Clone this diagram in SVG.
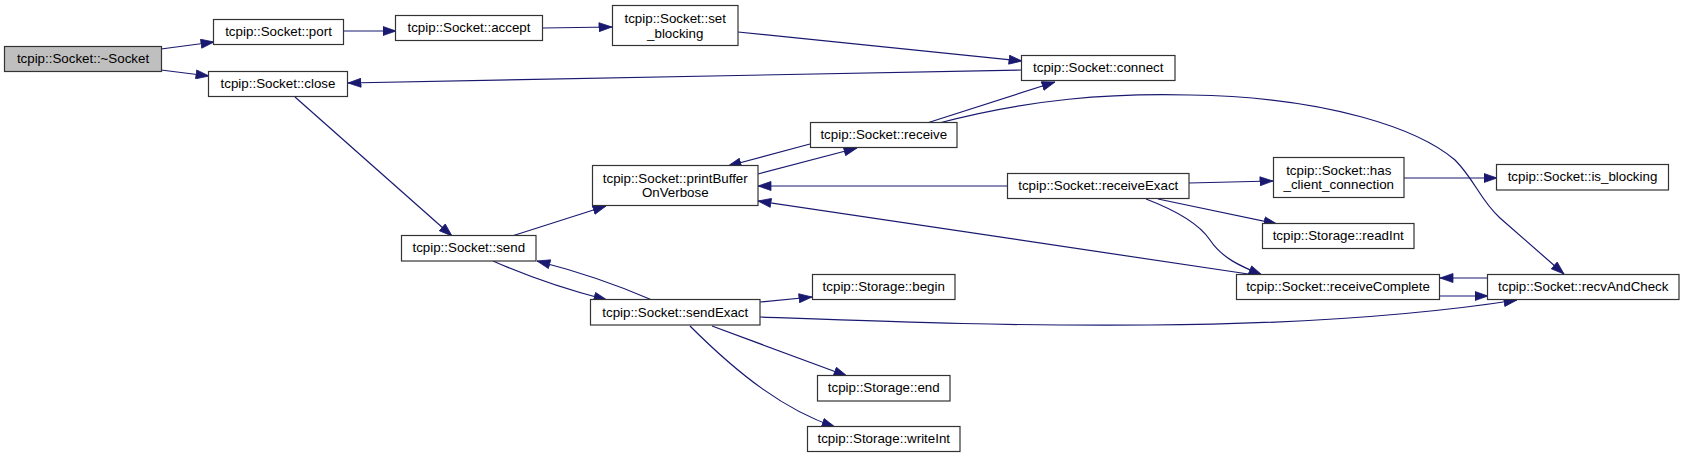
<svg xmlns="http://www.w3.org/2000/svg" width="1684" height="458" viewBox="0 0 1684 458">
<style>
.n rect{fill:#ffffff;stroke:#333333;stroke-width:1.2}
.n.root rect{fill:#bfbfbf}
.n text{font-family:"Liberation Sans",Arial,Helvetica,sans-serif;font-size:13.33px;fill:#000000;text-anchor:middle}
#edges path{fill:none;stroke:#191970;stroke-width:1.2;marker-end:url(#ah)}
</style>
<defs>
<marker id="ah" markerUnits="userSpaceOnUse" markerWidth="14" markerHeight="10" refX="13.5" refY="5" orient="auto">
<path d="M0.5,0.5 L13.5,5 L0.5,9.5 z" fill="#191970" stroke="#191970" stroke-width="0.8"/>
</marker>
</defs>
<rect width="1684" height="458" fill="#ffffff"/>
<g id="edges">
<path d="M161,49 L214,42"/>
<path d="M161,70 L209,76"/>
<path d="M343,31 L396,31"/>
<path d="M543,28 L612,27"/>
<path d="M738,32 L1022,61"/>
<path d="M1022,70 L348,83"/>
<path d="M295,97 L452,236"/>
<path d="M512,236 L606,206"/>
<path d="M758,174 L857,148"/>
<path d="M810,144 L728,166"/>
<path d="M1007,186 L758,186"/>
<path d="M1255,275 L758,201"/>
<path d="M927,123 L1055,82"/>
<path d="M939,123 C1030,99 1110,93 1190,95 C1330,97 1420,130 1455,160 C1475,180 1480,200 1500,218 L1564,274"/>
<path d="M1189,183 L1273,181"/>
<path d="M1404,178 L1497,178"/>
<path d="M1158,199 L1277,224"/>
<path d="M1146,199 C1180,212 1200,225 1210,240 C1222,258 1240,266 1262,275"/>
<path d="M1440,296 L1488,296"/>
<path d="M1488,278 L1440,278"/>
<path d="M760,317 C900,322 1000,326 1150,325 C1300,324 1420,315 1517,300"/>
<path d="M493,261 C520,273 560,288 607,300"/>
<path d="M652,300 C620,286 580,272 537,261"/>
<path d="M760,302 L812,297"/>
<path d="M712,326 L847,376"/>
<path d="M690,326 C740,376 785,410 835,427"/>
</g>
<g id="node_dtor" class="n root"><rect x="4.5" y="46.5" width="157" height="25"/><text x="83" y="63">tcpip::Socket::~Socket</text></g>
<g id="node_port" class="n"><rect x="213.5" y="19.5" width="130" height="25"/><text x="278.5" y="36">tcpip::Socket::port</text></g>
<g id="node_accept" class="n"><rect x="395.5" y="15.5" width="147" height="25"/><text x="469" y="32">tcpip::Socket::accept</text></g>
<g id="node_close" class="n"><rect x="208.5" y="71.5" width="139" height="25"/><text x="278" y="88">tcpip::Socket::close</text></g>
<g id="node_set_blocking" class="n"><rect x="612.5" y="5.5" width="125.5" height="40"/><text x="675.25" y="22.5">tcpip::Socket::set</text><text x="675.25" y="37.5">_blocking</text></g>
<g id="node_connect" class="n"><rect x="1021.5" y="55.5" width="153.5" height="25"/><text x="1098.25" y="72">tcpip::Socket::connect</text></g>
<g id="node_receive" class="n"><rect x="810.5" y="122.5" width="146.5" height="25"/><text x="883.75" y="139">tcpip::Socket::receive</text></g>
<g id="node_printBuffer" class="n"><rect x="592.5" y="165.5" width="165.5" height="40"/><text x="675.25" y="182.5">tcpip::Socket::printBuffer</text><text x="675.25" y="197">OnVerbose</text></g>
<g id="node_send" class="n"><rect x="401.5" y="235.5" width="134.5" height="25.5"/><text x="468.75" y="252">tcpip::Socket::send</text></g>
<g id="node_sendExact" class="n"><rect x="590.5" y="299.5" width="169.5" height="25.5"/><text x="675.25" y="316.5">tcpip::Socket::sendExact</text></g>
<g id="node_begin" class="n"><rect x="812.5" y="274.5" width="142.5" height="25"/><text x="883.75" y="291">tcpip::Storage::begin</text></g>
<g id="node_end" class="n"><rect x="817.5" y="375.5" width="132.5" height="25.5"/><text x="883.75" y="392">tcpip::Storage::end</text></g>
<g id="node_writeInt" class="n"><rect x="807.5" y="426.5" width="152.5" height="25"/><text x="883.75" y="443">tcpip::Storage::writeInt</text></g>
<g id="node_receiveExact" class="n"><rect x="1007.5" y="173.5" width="181.5" height="25"/><text x="1098.25" y="190">tcpip::Socket::receiveExact</text></g>
<g id="node_has_client" class="n"><rect x="1273.5" y="157.5" width="130.5" height="40"/><text x="1338.75" y="174.5">tcpip::Socket::has</text><text x="1338.75" y="189">_client_connection</text></g>
<g id="node_is_blocking" class="n"><rect x="1496.5" y="164.5" width="172" height="25.5"/><text x="1582.5" y="181">tcpip::Socket::is_blocking</text></g>
<g id="node_readInt" class="n"><rect x="1262.5" y="223.5" width="151.5" height="25"/><text x="1338.25" y="240">tcpip::Storage::readInt</text></g>
<g id="node_receiveComplete" class="n"><rect x="1236.5" y="274.5" width="203" height="25"/><text x="1338" y="291">tcpip::Socket::receiveComplete</text></g>
<g id="node_recvAndCheck" class="n"><rect x="1487.5" y="274.5" width="191.5" height="25"/><text x="1583.25" y="291">tcpip::Socket::recvAndCheck</text></g>
</svg>
